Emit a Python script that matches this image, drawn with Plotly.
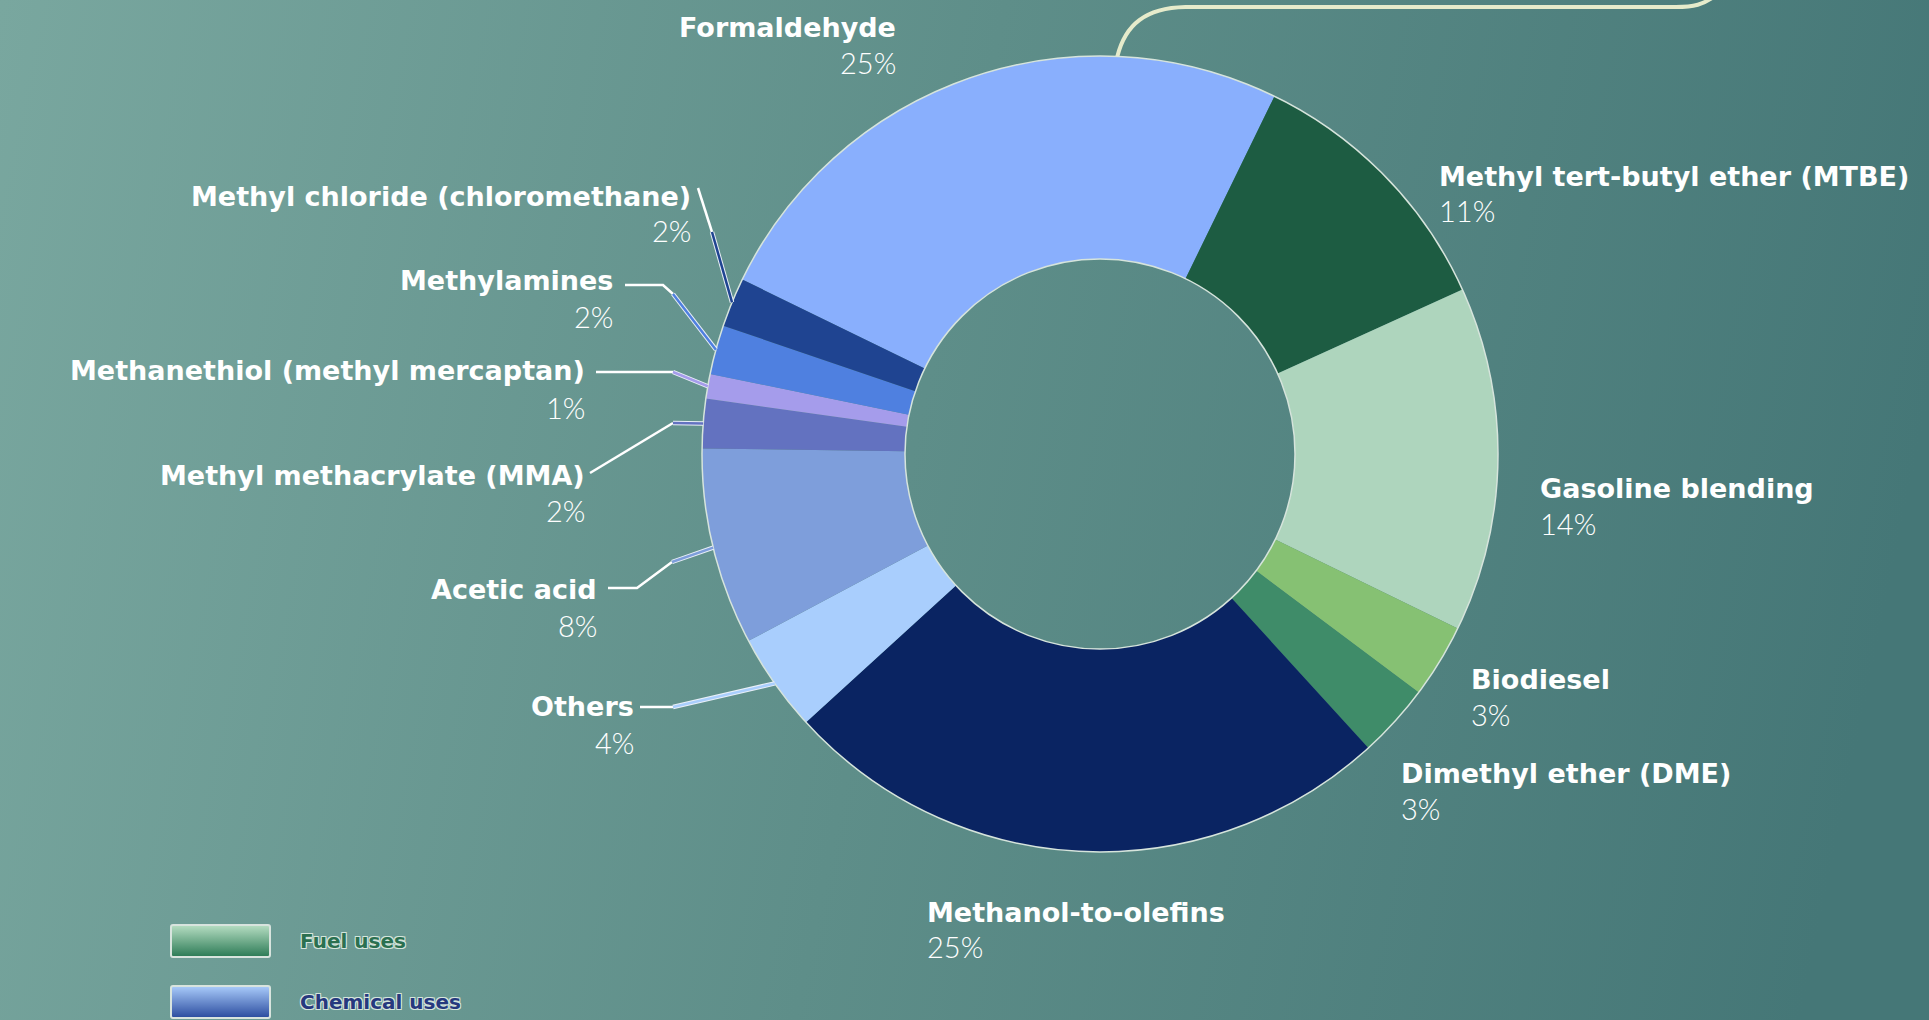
import math, base64
import plotly.graph_objects as go

# ---------------- data ----------------
categories = ["Formaldehyde", "Methyl tert-butyl ether (MTBE)", "Gasoline blending",
              "Biodiesel", "Dimethyl ether (DME)", "Methanol-to-olefins", "Others",
              "Acetic acid", "Methyl methacrylate (MMA)", "Methanethiol (methyl mercaptan)",
              "Methylamines", "Methyl chloride (chloromethane)"]
values = [25, 11, 14, 3, 3, 25, 4, 8, 2, 1, 2, 2]
colors = ["#89AFFD", "#1D5C42", "#AED5BD", "#86C173", "#3F8C69", "#0A2462", "#A9CEFD",
          "#7E9EDB", "#6372C0", "#A59CEB", "#4F80E0", "#1F4491"]
legend_names = ["Fuel uses", "Chemical uses"]

# ---------------- geometry (pixels) ----------------
W, H = 1929, 1020
CX, CY, R = 1100, 454, 398
HOLE = 0.49
ROT = -64  # start angle of first slice (deg clockwise from 12 o'clock)

def px(x):
    return x / W

def py(y):
    return 1 - y / H

fig = go.Figure()
fig.add_trace(go.Pie(
    labels=categories, values=values, sort=False, direction="clockwise",
    rotation=ROT, hole=HOLE, textinfo="none", hoverinfo="label+percent",
    marker=dict(colors=colors, line=dict(width=0)),
    domain=dict(x=[px(CX - R), px(CX + R)], y=[py(CY + R), py(CY - R)]),
    showlegend=False,
))

# slice mid angles
total = sum(values)
mid = {}
acc = ROT
for c, v in zip(categories, values):
    ang = v / total * 360
    mid[c] = acc + ang / 2
    acc += ang

def on_circle(angle_deg, r):
    a = math.radians(angle_deg)
    return CX + r * math.sin(a), CY - r * math.cos(a)

shapes = []
# outer and inner rim lines
for rr in (R, R * HOLE):
    shapes.append(dict(type="circle", xref="paper", yref="paper",
                       x0=px(CX - rr), x1=px(CX + rr), y0=py(CY + rr), y1=py(CY - rr),
                       line=dict(color="#D6E4DC", width=1.5)))

# label layout: (anchor side, x, title y, pct y)
label_pos = {
    "Formaldehyde": ("right", 898, 27, 62),
    "Methyl chloride (chloromethane)": ("right", 693, 197, 231),
    "Methylamines": ("right", 615, 280, 316),
    "Methanethiol (methyl mercaptan)": ("right", 587, 370, 407),
    "Methyl methacrylate (MMA)": ("right", 587, 475, 510),
    "Acetic acid": ("right", 599, 589, 625),
    "Others": ("right", 636, 706, 742),
    "Methanol-to-olefins": ("left", 925, 912, 946),
    "Dimethyl ether (DME)": ("left", 1399, 773, 808),
    "Biodiesel": ("left", 1469, 679, 714),
    "Gasoline blending": ("left", 1538, 488, 523),
    "Methyl tert-butyl ether (MTBE)": ("left", 1437, 176, 211),
}

# leader lines: white elbow points near the label, colored segment to the slice rim
leaders = {
    "Methyl chloride (chloromethane)": [(698, 188), (712, 232)],
    "Methylamines": [(625, 285), (663, 285), (673, 294)],
    "Methanethiol (methyl mercaptan)": [(596, 372), (673, 372)],
    "Methyl methacrylate (MMA)": [(590, 473), (673, 423)],
    "Acetic acid": [(608, 588), (637, 588), (672, 562)],
    "Others": [(640, 707), (673, 707)],
}
cmap = dict(zip(categories, colors))
for cat, pts in leaders.items():
    sx, sy = on_circle(mid[cat], R)
    ex, ey = pts[-1]
    d = "M " + " L ".join(f"{px(x)},{py(y)}" for x, y in pts)
    shapes.append(dict(type="path", xref="paper", yref="paper", path=d,
                       line=dict(color="white", width=2.5)))
    shapes.append(dict(type="path", xref="paper", yref="paper",
                       path=f"M {px(ex)},{py(ey)} L {px(sx)},{py(sy)}",
                       line=dict(color="#EAF0F8", width=4.5)))
    shapes.append(dict(type="path", xref="paper", yref="paper",
                       path=f"M {px(ex)},{py(ey)} L {px(sx)},{py(sy)}",
                       line=dict(color=cmap[cat], width=2.5)))

# decorative callout from Formaldehyde
fx, fy = on_circle(mid["Formaldehyde"] + 21.5, R)
callout = (f"M {px(fx)},{py(fy)} C {px(fx + 8)},{py(fy - 32)} {px(fx + 28)},{py(8)} {px(fx + 68)},{py(7)} "
           f"L {px(1676)},{py(7)} C {px(1695)},{py(7)} {px(1703)},{py(4)} {px(1712)},{py(-2)}")
shapes.append(dict(type="path", xref="paper", yref="paper", path=callout,
                   line=dict(color="#E6EBCB", width=4)))

annotations = []
for cat in categories:
    side, x, ty, pyy = label_pos[cat]
    v = values[categories.index(cat)]
    annotations.append(dict(xref="paper", yref="paper", x=px(x), y=py(ty), text=cat,
                            showarrow=False, xanchor=side, yanchor="middle",
                            font=dict(family="DejaVu Sans", size=27, color="white", weight="bold")))
    annotations.append(dict(xref="paper", yref="paper", x=px(x), y=py(pyy), text=f"{v}%",
                            showarrow=False, xanchor=side, yanchor="middle",
                            font=dict(family="Lato", size=29, color="white", weight=300)))

# legend entries
legend_colors = [("#2B7050", "#B7DEC3", "#2B7A55"), ("#26397E", "#AACCFB", "#2A4B9E")]
legend_y = [941, 1002]
for name, (tc, c1, c2), ly in zip(legend_names, legend_colors, legend_y):
    annotations.append(dict(xref="paper", yref="paper", x=px(298), y=py(ly), text=name,
                            showarrow=False, xanchor="left", yanchor="middle",
                            font=dict(family="DejaVu Sans", size=20, color=tc, weight="bold",
                                      shadow="1px 1px 0 #D5E5DC, -1px -1px 0 #D5E5DC, 1px -1px 0 #D5E5DC, -1px 1px 0 #D5E5DC")))

def svg_uri(svg):
    return "data:image/svg+xml;base64," + base64.b64encode(svg.encode()).decode()

bg_svg = (f"<svg xmlns='http://www.w3.org/2000/svg' width='{W}' height='{H}' preserveAspectRatio='none'>"
          "<defs><linearGradient id='g' gradientUnits='userSpaceOnUse' x1='0' y1='0' x2='1929' y2='400'>"
          "<stop offset='0' stop-color='#79A79F'/><stop offset='0.5' stop-color='#5E8E89'/>"
          "<stop offset='1' stop-color='#457777'/></linearGradient></defs>"
          f"<rect width='{W}' height='{H}' fill='url(#g)'/></svg>")
images = [dict(source=svg_uri(bg_svg), xref="paper", yref="paper", x=0, y=1, sizex=1, sizey=1,
               sizing="stretch", layer="below", xanchor="left", yanchor="top")]

for (tc, c1, c2), ly in zip(legend_colors, legend_y):
    sw = (f"<svg xmlns='http://www.w3.org/2000/svg' width='101' height='34' preserveAspectRatio='none'>"
          "<defs><linearGradient id='g' x1='0' y1='0' x2='0' y2='1'>"
          f"<stop offset='0' stop-color='{c1}'/><stop offset='1' stop-color='{c2}'/></linearGradient></defs>"
          "<rect x='1' y='1' width='99' height='32' rx='2' fill='url(#g)' stroke='#D8E4DE' stroke-width='2'/></svg>")
    images.append(dict(source=svg_uri(sw), xref="paper", yref="paper", x=px(170), y=py(ly - 17),
                       sizex=101 / W, sizey=34 / H, sizing="stretch", layer="above",
                       xanchor="left", yanchor="top"))

fig.update_layout(width=W, height=H, margin=dict(l=0, r=0, t=0, b=0),
                  paper_bgcolor="#5E8E89", plot_bgcolor="rgba(0,0,0,0)",
                  shapes=shapes, annotations=annotations, images=images, showlegend=False)
fig.write_html("out.html")
